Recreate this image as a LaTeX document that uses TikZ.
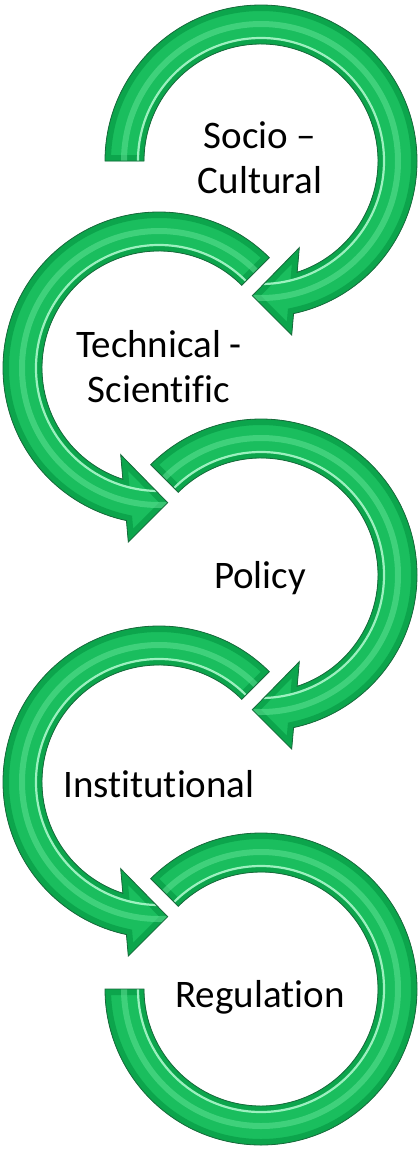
\documentclass[tikz,border=0pt]{standalone}
\usepackage{fontspec}
\setmainfont{Carlito}[Ligatures={NoCommon}]
\begin{document}

% Clockwise ring arrow around the origin: flat cut at angle #1,
% arrowhead near the bottom (ring radii 117 and 156).
\newcommand\cwpath[1]{(#1:156) arc[start angle=#1, end angle=-77.95, radius=156]
  -- (30.7,-174) -- (-8.7,-134.7) -- (38.3,-86.7)
  -- (-72.0:117) arc[start angle=-72.0, end angle=#1, radius=117] -- cycle}
% Plain ring segment with two flat ends, running clockwise from #1 to #2.
\newcommand\ringpath[2]{(#1:156) arc[start angle=#1, end angle=#2, radius=156]
  -- (#2:117) arc[start angle=#2, end angle=#1, radius=117] -- cycle}

% Beveled green shape: #1 scope options, #2 outline path.
\newcommand\bevelshape[2]{%
  \begin{scope}[#1]
    \fill[ringfill] #2;
    \begin{scope}
      \clip #2;
      \draw[rimband] #2;
      \draw[softglow] (0,0) circle (137);
      \draw[brightglow] (0,0) circle (123);
    \end{scope}
    \draw[ringedge] #2;
  \end{scope}}

\definecolor{ringgreen}{RGB}{26,190,94}
\definecolor{rimgreen}{RGB}{12,165,76}
\definecolor{glowgreen}{RGB}{95,225,148}
\definecolor{brightgreen}{RGB}{180,252,210}
\definecolor{edgegreen}{RGB}{25,105,60}

\begin{tikzpicture}[x=1pt, y=1pt,
  ringfill/.style={fill=ringgreen},
  rimband/.style={draw=rimgreen, line width=12pt, line join=miter},
  softglow/.style={draw=glowgreen, line width=6pt, opacity=0.55},
  brightglow/.style={draw=brightgreen, line width=2.2pt, opacity=0.85},
  ringedge/.style={draw=edgegreen, line width=0.8pt, line join=miter},
  label/.style={font=\fontsize{39pt}{44pt}\selectfont, text=black,
    inner sep=0pt, anchor=base}]

  \fill[white] (0,0) rectangle (418,-1149);
  \useasboundingbox (0,0) rectangle (418,-1149);

  % centres of the five rings
  \coordinate (c1) at (261,-161);
  \coordinate (c2) at (159,-368);
  \coordinate (c3) at (261,-575);
  \coordinate (c4) at (159,-782);
  \coordinate (c5) at (261,-989);

  \bevelshape{shift={(c1)}}{\cwpath{180}}
  \bevelshape{shift={(c2)}, xscale=-1}{\cwpath{135}}
  \bevelshape{shift={(c3)}}{\cwpath{135}}
  \bevelshape{shift={(c4)}, xscale=-1}{\cwpath{135}}
  \bevelshape{shift={(c5)}}{\ringpath{135}{-180}}

  % stage labels
  \node[label] (socio)    at (260,-148)  {Socio –};
  \node[label] (cultural) at (260,-193)  {Cultural};
  \node[label] (tech)     at (159,-357)  {Technical -};
  \node[label] (sci)      at (159,-402)  {Scientific};
  \node[label] (policy)   at (260,-588)  {Policy};
  \node[label] (inst)     at (159,-797)  {Institutional};
  \node[label] (reg)      at (260,-1007) {Regulation};
\end{tikzpicture}
\end{document}
